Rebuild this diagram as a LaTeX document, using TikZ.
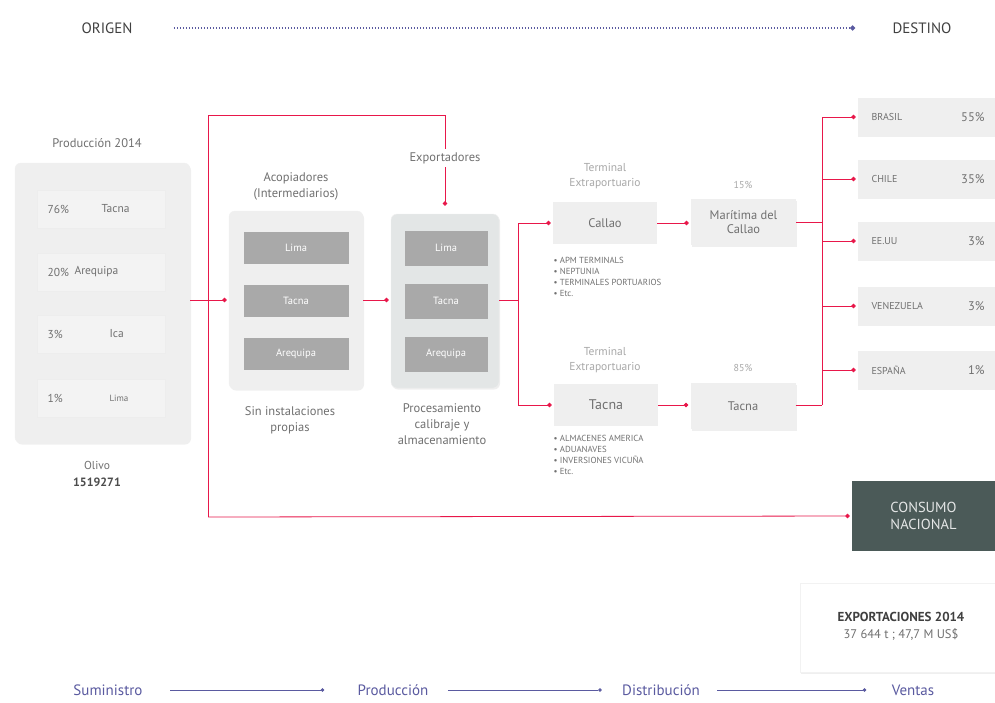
\documentclass[tikz,border=0pt]{standalone}
\usepackage{fontspec}
\setmainfont{PT Sans}
\usetikzlibrary{arrows.meta,shadows}
\definecolor{flow}{HTML}{E8174A}
\definecolor{stage}{HTML}{5A5AA0}
\definecolor{txt}{HTML}{707070}
\definecolor{lighttxt}{HTML}{A8A8A8}
\definecolor{panel}{HTML}{EFEFEF}
\definecolor{cell}{HTML}{F3F3F3}
\definecolor{darkcell}{HTML}{A9A9A9}
\definecolor{expopanel}{HTML}{E3E6E6}
\definecolor{slate}{HTML}{4B5A58}
\tikzset{
  softshadow/.style={drop shadow={opacity=0.12,shadow xshift=1pt,shadow yshift=-1.5pt}},
  panelbox/.style={draw=gray!12,fill=panel,rounded corners=6pt,softshadow},
  cellbox/.style={draw=gray!14,line width=0.6pt,fill=cell,minimum width=128pt,minimum height=38pt},
  greycell/.style={fill=darkcell,text=white,minimum width=105pt,minimum height=32pt,font=\fontsize{10.5}{12}\selectfont},
  greycellsm/.style={greycell,minimum width=83pt,minimum height=35pt},
  termbox/.style={fill=panel,minimum width=104pt,minimum height=42pt,text=txt,font=\fontsize{12.5}{14}\selectfont,align=center},
  portbox/.style={fill=panel,minimum width=105pt,minimum height=46pt,text=txt,font=\fontsize{12.5}{14}\selectfont,align=center,softshadow},
  countrybox/.style={fill=panel,minimum width=140pt,minimum height=39pt},
  lbl/.style={text=txt,font=\fontsize{12.5}{16}\selectfont,align=center},
  smalllbl/.style={text=lighttxt,font=\fontsize{11.5}{15}\selectfont,align=center},
  tinylist/.style={text=txt,font=\fontsize{8.8}{10.8}\selectfont,align=left,anchor=north west},
  ctry/.style={text=txt,font=\fontsize{10}{11}\selectfont,anchor=west},
  pct/.style={text=txt,font=\fontsize{12.5}{14}\selectfont,anchor=east},
  flowline/.style={draw=flow,line width=0.8pt},
  flowarrow/.style={flowline,-{Circle[length=4.5pt]},shorten >=2pt},
  stagearrow/.style={draw=stage,line width=0.6pt,-{Circle[length=3.5pt]}},
  stagelbl/.style={text=stage,font=\fontsize{15}{18}\selectfont},
  headlbl/.style={text=black!75,font=\fontsize{15}{18}\selectfont},
}
\begin{document}
\begin{tikzpicture}[x=1pt,y=-1pt]
\useasboundingbox[fill=white] (0,0) rectangle (995,702);

% ---- header: origin to destination
\node[headlbl] (origen) at (107,28) {ORIGEN};
\node[headlbl] (destino) at (922,28) {DESTINO};
\draw[stage,line width=1.4pt,dash pattern=on 1.4pt off 1.6pt,-{Circle[length=5pt]},shorten <=38pt,shorten >=34pt] (origen) -- (destino);

% ---- production panel
\node[lbl] (prodlbl) at (97,143) {Producción 2014};
\node[panelbox,minimum width=175pt,minimum height=280pt] (prod) at (102.5,303) {};
\node[cellbox] (c1) at (101,209) {};
\node[cellbox] (c2) at (101,272) {};
\node[cellbox] (c3) at (101,334) {};
\node[cellbox] (c4) at (101,398) {};
\node[lbl,anchor=west,font=\fontsize{11.5}{13}\selectfont] at (44,209) {76\%};
\node[lbl,anchor=west,font=\fontsize{11.5}{13}\selectfont] at (98,209) {Tacna};
\node[lbl,anchor=west,font=\fontsize{11.5}{13}\selectfont] at (44,272) {20\%};
\node[lbl,anchor=west,font=\fontsize{11.5}{13}\selectfont] at (71,272) {Arequipa};
\node[lbl,anchor=west,font=\fontsize{11.5}{13}\selectfont] at (44,334) {3\%};
\node[lbl,anchor=west,font=\fontsize{11.5}{13}\selectfont] at (106,334) {Ica};
\node[lbl,anchor=west,font=\fontsize{11.5}{13}\selectfont] at (44,398) {1\%};
\node[lbl,anchor=west,font=\fontsize{9}{11}\selectfont] at (106,398) {Lima};
\node[lbl,font=\fontsize{11.5}{13}\selectfont] (olivo) at (97,465) {Olivo};
\node[lbl,text=black!70,font=\fontsize{12}{14}\selectfont\bfseries] (olivoval) at (97,482) {1519271};

% ---- collectors
\node[lbl] (acoplbl) at (296,186) {Acopiadores\\(Intermediarios)};
\node[panelbox,minimum width=134pt,minimum height=178pt] (acop) at (296,300) {};
\node[greycell] (a1) at (296,248) {Lima};
\node[greycell] (a2) at (296,301) {Tacna};
\node[greycell] (a3) at (296,354) {Arequipa};
\node[lbl] (acopnote) at (290,420) {Sin instalaciones\\propias};

% ---- exporters
\node[panelbox,fill=expopanel,minimum width=108pt,minimum height=174pt] (expo) at (445,301) {};
\node[greycellsm] (e1) at (446,248) {Lima};
\node[greycellsm] (e2) at (446,301) {Tacna};
\node[greycellsm] (e3) at (446,354) {Arequipa};
\node[lbl] (exponote) at (442,424) {Procesamiento\\calibraje y\\almacenamiento};

% ---- terminals and ports
\node[smalllbl] (t1lbl) at (605,176) {Terminal\\Extraportuario};
\node[termbox] (callao) at (605,223) {Callao};
\node[tinylist] (callaolist) at (550,254) {\textbullet\ APM TERMINALS\\\textbullet\ NEPTUNIA\\\textbullet\ TERMINALES PORTUARIOS\\\textbullet\ Etc.};
\node[smalllbl] (t2lbl) at (605,360) {Terminal\\Extraportuario};
\node[termbox,font=\fontsize{14}{16}\selectfont] (tacnaT) at (606,405) {Tacna};
\node[tinylist] (tacnalist) at (550,432) {\textbullet\ ALMACENES AMERICA\\\textbullet\ ADUANAVES\\\textbullet\ INVERSIONES VICUÑA\\\textbullet\ Etc.};
\node[smalllbl,font=\fontsize{10}{12}\selectfont] (p1lbl) at (743,185) {15\%};
\node[portbox] (maritima) at (743.5,222) {Marítima del\\Callao};
\node[smalllbl,font=\fontsize{10}{12}\selectfont] (p2lbl) at (743,368) {85\%};
\node[portbox] (tacnaP) at (743,406) {Tacna};

% ---- destination countries
\node[countrybox] (brasil) at (928,117) {};
\node[countrybox] (chile) at (928,179) {};
\node[countrybox] (eeuu) at (928,241) {};
\node[countrybox] (venez) at (928,306) {};
\node[countrybox] (espana) at (928,370) {};
\node[ctry] at (868,117) {BRASIL};
\node[pct] at (988,117) {55\%};
\node[ctry] at (868,179) {CHILE};
\node[pct] at (988,179) {35\%};
\node[ctry] at (868,241) {EE.UU};
\node[pct] at (988,241) {3\%};
\node[ctry] at (868,306) {VENEZUELA};
\node[pct] at (988,306) {3\%};
\node[ctry] at (868,370) {ESPAÑA};
\node[pct] at (988,370) {1\%};

% ---- domestic consumption and export totals
\node[fill=slate,minimum width=143pt,minimum height=70pt,text=white!85!slate,font=\fontsize{14.5}{17}\selectfont,align=center] (consumo) at (923.5,516) {CONSUMO\\NACIONAL};
\node[draw=gray!10,fill=white,softshadow,minimum width=195pt,minimum height=89pt] (exportbox) at (897.5,627.5) {};
\node[text=black!75,font=\fontsize{13}{15}\selectfont\bfseries] (exptitle) at (901,617) {EXPORTACIONES 2014};
\node[text=txt,font=\fontsize{12.5}{15}\selectfont] (expval) at (901,634) {37 644 t ; 47,7 M US\$};

% ---- red flow connectors
\coordinate (jtop) at (208,115);
\coordinate (jbot) at (208,517);
\draw[flowline] (jtop) -- (jbot);
\draw[flowarrow,shorten >=8pt] (jtop) -| (expo.north);
\draw[flowarrow] (jbot) -- (consumo.west);
\draw[flowarrow] (prod.east |- acop.west) -- (acop.west);
\draw[flowarrow] (acop.east) -- (expo.west |- acop.east);
\coordinate (jsplit) at (518,300);
\draw[flowline] (expo.east |- jsplit) -- (jsplit);
\draw[flowarrow] (jsplit) |- (callao.west);
\draw[flowarrow] (jsplit) |- (tacnaT.west);
\draw[flowarrow] (callao.east) -- (maritima.west |- callao.east);
\draw[flowarrow] (tacnaT.east) -- (tacnaP.west |- tacnaT.east);
\coordinate (jctop) at (822,117);
\coordinate (jcbot) at (822,405);
\draw[flowline] (jctop) -- (jcbot);
\draw[flowline] (maritima.east) -- (maritima.east -| jctop);
\draw[flowline] (tacnaP.east |- jcbot) -- (jcbot);
\draw[flowarrow] (jctop) -- (brasil.west);
\draw[flowarrow] (jctop |- chile.west) -- (chile.west);
\draw[flowarrow] (jctop |- eeuu.west) -- (eeuu.west);
\draw[flowarrow] (jctop |- venez.west) -- (venez.west);
\draw[flowarrow] (jctop |- espana.west) -- (espana.west);

% label over the exporters feed line
\node[lbl,fill=white,inner sep=3pt] (expolbl) at (445,158) {Exportadores};

% ---- supply chain stages
\node[stagelbl] (s1) at (108,690) {Suministro};
\node[stagelbl] (s2) at (393,690) {Producción};
\node[stagelbl] (s3) at (661,690) {Distribución};
\node[stagelbl] (s4) at (913,690) {Ventas};
\draw[stagearrow,shorten <=24pt,shorten >=30pt] (s1.east) -- (s2.west);
\draw[stagearrow,shorten <=16pt,shorten >=17pt] (s2.east) -- (s3.west);
\draw[stagearrow,shorten <=14pt,shorten >=22pt] (s3.east) -- (s4.west);
\end{tikzpicture}
\end{document}
